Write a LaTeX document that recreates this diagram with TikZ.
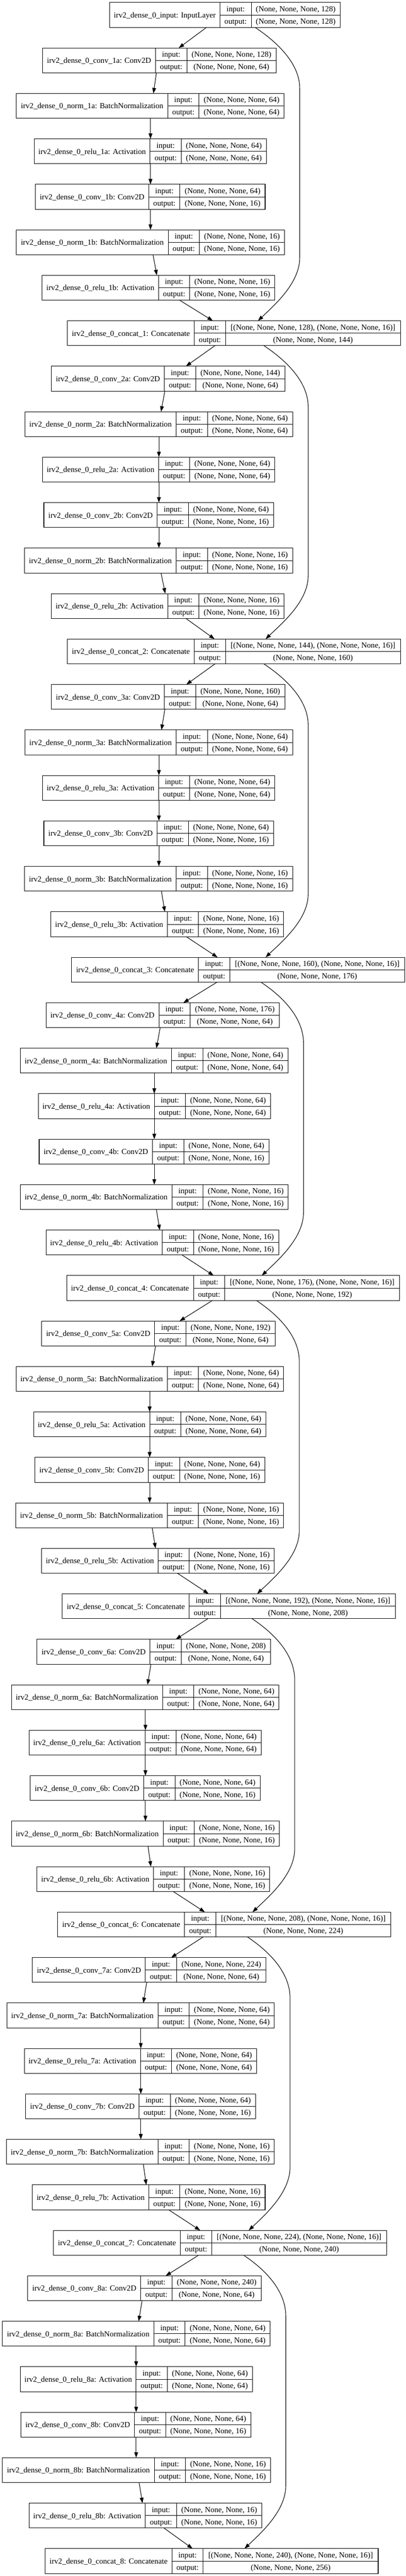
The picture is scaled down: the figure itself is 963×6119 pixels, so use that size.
\documentclass[tikz,border=0pt]{standalone}
\usepackage{fontspec}
\setmainfont{Liberation Serif}
\usetikzlibrary{arrows.meta,calc}
\tikzset{
  box/.style={draw, line width=1.3pt, inner sep=0pt, outer sep=0pt, minimum height=59pt, anchor=north west},
  cell/.style={draw, line width=1.1pt},
  lbl/.style={inner sep=0pt, text height=13pt, text depth=0pt, font=\fontsize{18.6pt}{22pt}\selectfont},
  edge/.style={draw, line width=1.3pt, -{Triangle[length=13pt,width=9pt]}},
}
% #1 name, #2 left x, #3 top y, #4 name-cell width, #5 value-cell width, #6 title, #7 input value, #8 output value
\newcommand\layer[8]{%
  \node[box, minimum width={(#4+74+#5)*1pt}] (#1) at ({#2},{#3}) {};
  \draw[cell] ($(#1.north west)+({#4},0)$) -- ($(#1.south west)+({#4},0)$);
  \draw[cell] ($(#1.north west)+({#4+74},0)$) -- ($(#1.south west)+({#4+74},0)$);
  \draw[cell] ($(#1.west)+({#4},0)$) -- (#1.east);
  \node[lbl] at ($(#1.west)+({#4/2},0)$) {#6};
  \node[lbl] at ($(#1.west)+({#4+37},-14.75)$) {input:};
  \node[lbl] at ($(#1.west)+({#4+37},14.75)$) {output:};
  \node[lbl] at ($(#1.west)+({#4+74+#5/2},-14.75)$) {#7};
  \node[lbl] at ($(#1.west)+({#4+74+#5/2},14.75)$) {#8};
}
\newcommand\conn[4]{\draw[edge] let \p1=(#1.south), \p2=(#3.north) in (#2pt,\y1) -- (#4pt,\y2);}
\newcommand\skipc[5]{\draw[edge] let \p1=(#1.south), \p2=(#4.north) in
  (#2pt,\y1) .. controls ({#2pt+60pt},{\y1-40pt}) and (#3pt,{\y1-90pt}) .. (#3pt,{\y1-145pt})
  -- (#3pt,{\y2+150pt}) .. controls (#3pt,{\y2+90pt}) and ({#5pt+40pt},{\y2+38pt}) .. (#5pt,\y2);}
\begin{document}
\begin{tikzpicture}[x=1pt,y=-1pt]
\useasboundingbox (0,0) rectangle (963,6119);
\layer{concat0}{260}{6}{262}{211}{irv2\_dense\_0\_input: InputLayer}{(None, None, None, 128)}{(None, None, None, 128)}
\foreach \bk/\xca/\xna/\xra/\xcb/\xnb/\xrb/\xcc/\aS/\aE/\bS/\bE/\vx/\cS/\cE/\dS/\dE/\sS/\sX/\sE in {
  1/101/39/81/84/39/100/160/490/424/371/364/357/363/372/426/505/605/711/612,
  2/122/59/101/104/58/122/160/510/441/391/382/377/382/392/441/509/626/731/630,
  3/122/59/101/104/58/121/170/510/442/391/383/377/383/391/442/516/626/731/630,
  4/109/48/91/93/48/109/158/515/435/380/371/366/371/379/432/507/619/720/621,
  5/99/38/80/83/37/99/148/504/426/369/361/355/361/369/421/495/608/710/610,
  6/88/27/69/72/27/88/137/493/417/358/350/345/351/358/411/486/598/699/599,
  7/77/16/58/61/15/77/127/482/406/348/340/334/340/347/400/475/587/688/590,
  8/66/6/48/50/6/69/107/471/393/337/329/323/330/338/389/457/578/678/580}{
  \pgfmathtruncatemacro\ya{6+108*(7*\bk-6)}
  \pgfmathtruncatemacro\pk{\bk-1}
  \pgfmathtruncatemacro\chin{112+16*\bk}
  \pgfmathtruncatemacro\chout{128+16*\bk}
  \layer{conva\bk}{\xca}{\ya}{268}{212}{irv2\_dense\_0\_conv\_\bk a: Conv2D}{(None, None, None, \chin)}{(None, None, None, 64)}
  \layer{norma\bk}{\xna}{\ya+108}{359}{202}{irv2\_dense\_0\_norm\_\bk a: BatchNormalization}{(None, None, None, 64)}{(None, None, None, 64)}
  \layer{relua\bk}{\xra}{\ya+216}{275}{202}{irv2\_dense\_0\_relu\_\bk a: Activation}{(None, None, None, 64)}{(None, None, None, 64)}
  \layer{convb\bk}{\xcb}{\ya+324}{269}{202}{irv2\_dense\_0\_conv\_\bk b: Conv2D}{(None, None, None, 64)}{(None, None, None, 16)}
  \layer{normb\bk}{\xnb}{\ya+432}{360}{202}{irv2\_dense\_0\_norm\_\bk b: BatchNormalization}{(None, None, None, 16)}{(None, None, None, 16)}
  \layer{relub\bk}{\xrb}{\ya+540}{276}{202}{irv2\_dense\_0\_relu\_\bk b: Activation}{(None, None, None, 16)}{(None, None, None, 16)}
  \layer{concat\bk}{\xcc}{\ya+648}{301}{415}{irv2\_dense\_0\_concat\_\bk: Concatenate}{[(None, None, None, \chin), (None, None, None, 16)]}{(None, None, None, \chout)}
  \conn{concat\pk}{\aS}{conva\bk}{\aE}
  \conn{conva\bk}{\bS}{norma\bk}{\bE}
  \conn{norma\bk}{\vx}{relua\bk}{\vx}
  \conn{relua\bk}{\vx}{convb\bk}{\vx}
  \conn{convb\bk}{\vx}{normb\bk}{\vx}
  \conn{normb\bk}{\cS}{relub\bk}{\cE}
  \conn{relub\bk}{\dS}{concat\bk}{\dE}
  \skipc{concat\pk}{\sS}{\sX}{concat\bk}{\sE}
}
\end{tikzpicture}
\end{document}
